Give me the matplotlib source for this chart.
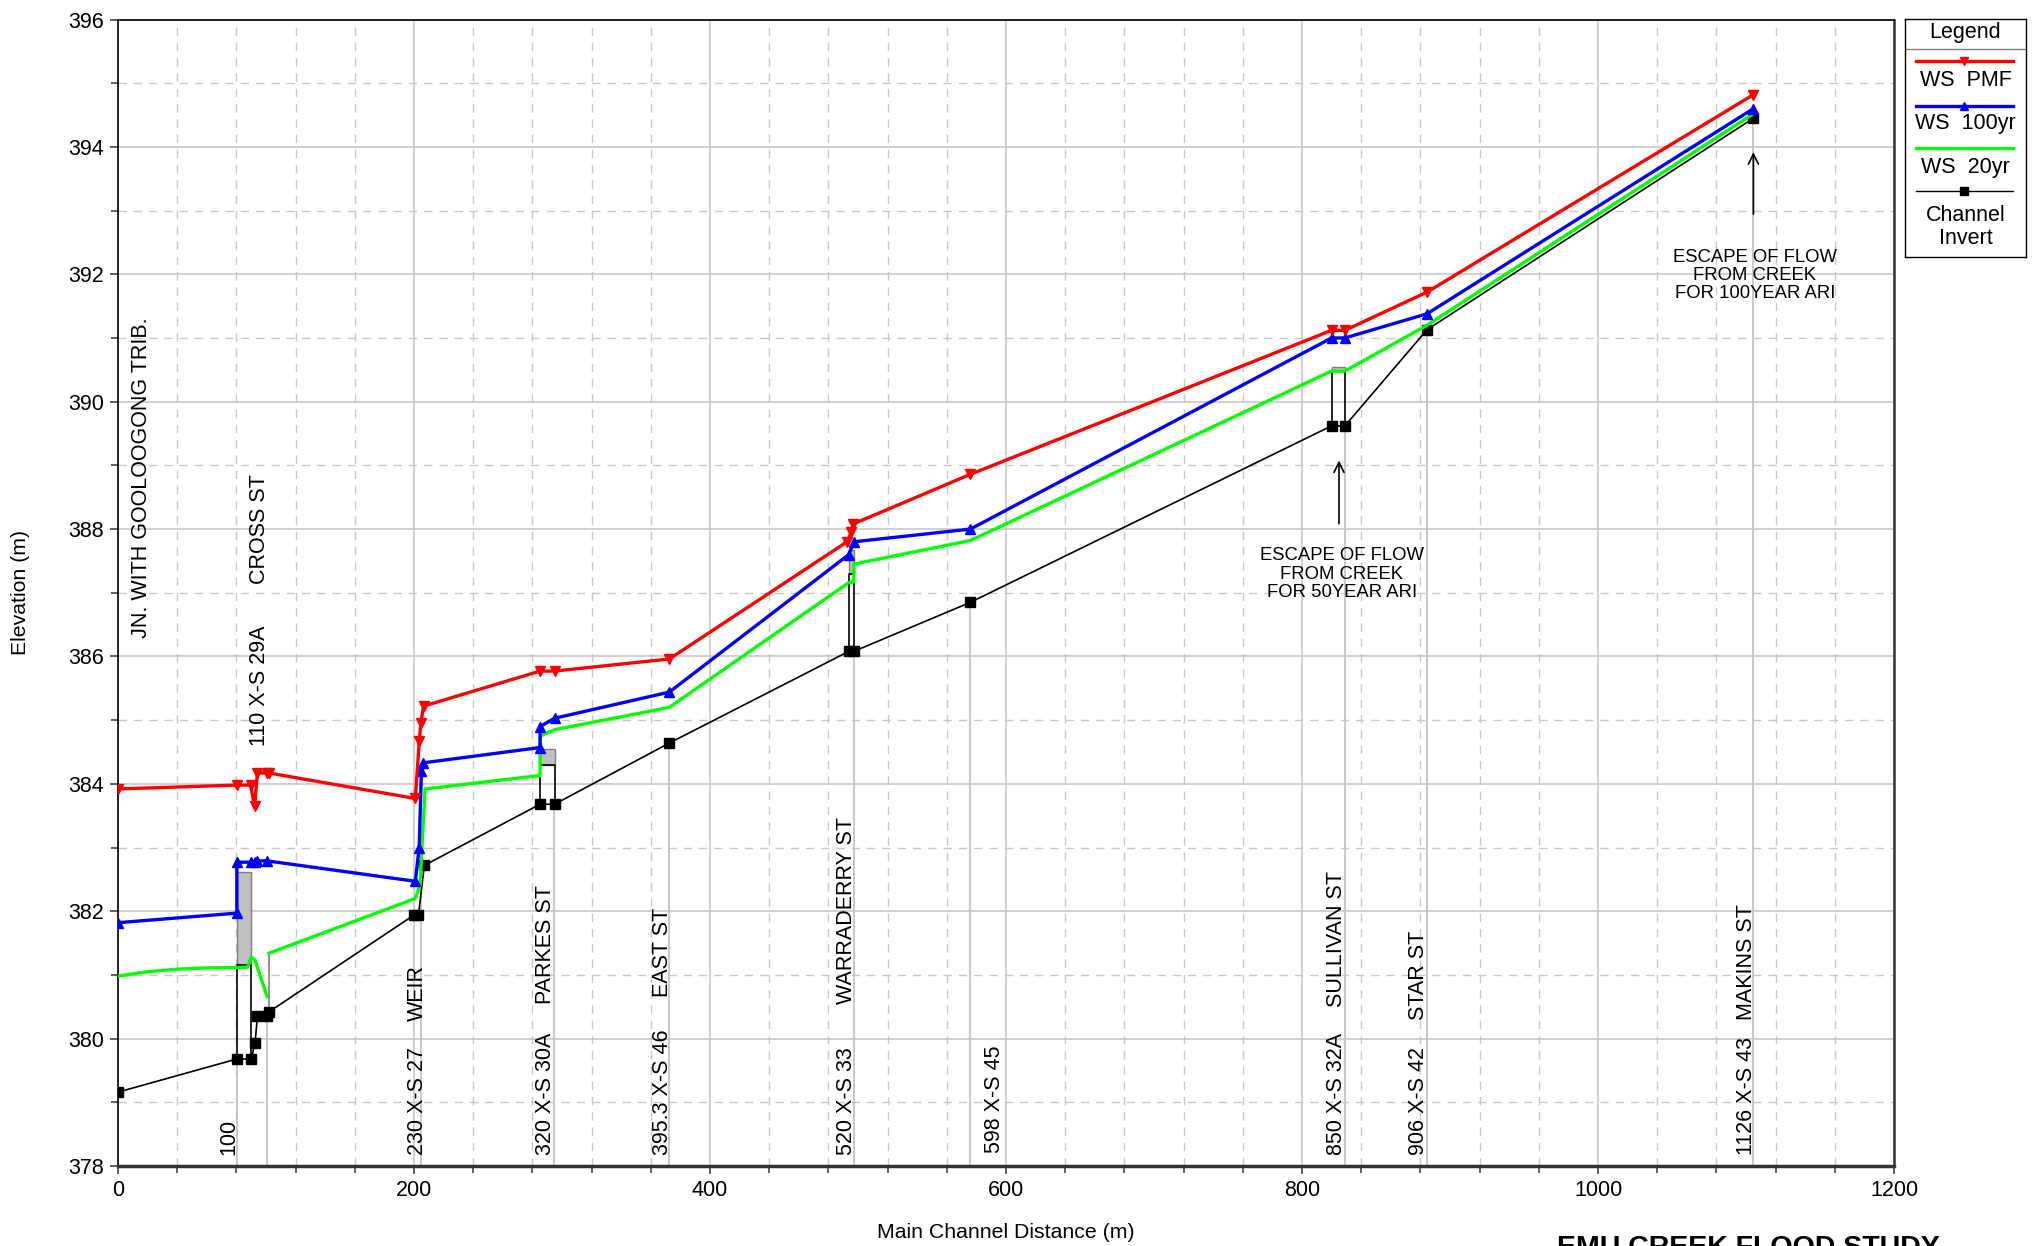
import numpy as np
import matplotlib.pyplot as plt
from matplotlib.ticker import MultipleLocator
from matplotlib.patches import Rectangle

plt.rcParams['font.family'] = ['Liberation Sans', 'DejaVu Sans']

# --- profiles: main channel distance (m) / elevation (m) ---
pmf_x = [0, 80.3, 89.6, 92.3, 94.2, 100.8, 102, 200.9, 203.6, 204.6, 206.5,
         285.2, 295, 372.5, 492.6, 495.4, 496.8, 576, 820, 829, 884.5, 1105]
pmf_z = [383.92, 383.98, 383.98, 383.65, 384.17, 384.17, 384.17, 383.77, 384.68, 384.95, 385.22,
         385.77, 385.77, 385.96, 387.80, 387.95, 388.08, 388.86, 391.12, 391.12, 391.72, 394.82]

q100_x = [0, 80.3, 80.3, 90, 92.6, 94.2, 100.8, 200.9, 203.5, 205, 206.4,
          285.2, 285.2, 295, 372.5, 493.8, 497.2, 576, 820, 829, 884.5, 1105]
q100_z = [381.82, 381.97, 382.77, 382.77, 382.78, 382.79, 382.79, 382.47, 383.0, 384.2, 384.33,
          384.57, 384.9, 385.03, 385.44, 387.6, 387.8, 388.0, 391.0, 391.0, 391.38, 394.6]

q20_x = [0, 20, 40, 60, 87.5, 90, 92.6, 100.8, np.nan, 102, 200.9, 204, 207.5,
         285.2, 285.2, 295, 372.5, 493.8, 497.2, 497.2, 576, 820, 829, 884.5, 1105]
q20_z = [380.98, 381.05, 381.09, 381.11, 381.12, 381.28, 381.23, 380.66, np.nan, 381.34, 382.2, 382.4, 383.92,
         384.13, 384.75, 384.85, 385.2, 387.16, 387.17, 387.45, 387.82, 390.48, 390.48, 391.2, 394.52]

inv_x = [0, 80.3, 90, 92.6, 94.2, 100.8, 102, 200, 203, 207, 285.2, 295,
         372.5, 493.8, 497.2, 576, 820, 829, 884.5, 1105]
inv_z = [379.16, 379.68, 379.68, 379.93, 380.35, 380.35, 380.42, 381.94, 381.94, 382.72, 383.68, 383.68,
         384.64, 386.08, 386.08, 386.85, 389.62, 389.62, 391.13, 394.45]

# bridges / culverts
struct_left = [80.3, 285.2, 493.8, 820]
struct_right = [90, 295, 497.2, 829]
struct_invert = [379.68, 383.68, 386.08, 389.62]
struct_low = [381.15, 384.29, 387.30, 390.48]
struct_high = [382.62, 384.54, 387.67, 390.55]

# weir wall downstream of Cross St
wall_x = [102, 102]
wall_z = [380.42, 381.34]

# cross-section lines
station_x = [80.3, 100.8, 205, 294.5, 372.5, 497.2, 576, 829, 884.5, 1105]

xs_labels = ['100', '110 X-S 29A', '230 X-S 27', '320 X-S 30A', '395.3 X-S 46',
             '520 X-S 33', '598 X-S 45', '850 X-S 32A', '906 X-S 42', '1126 X-S 43']
xs_label_x = [82, 103, 209.5, 296, 375, 499, 599, 830.5, 886, 1107.5]
xs_label_z = [378.17, 384.59, 378.17, 378.17, 378.17, 378.17, 378.2, 378.17, 378.17, 378.17]

street_names = ['JN. WITH GOOLOOGONG TRIB.', 'CROSS ST', 'WEIR', 'PARKES ST', 'EAST ST',
                'WARRADERRY ST', 'SULLIVAN ST', 'STAR ST', 'MAKINS ST']
street_x = [23, 103, 209.5, 296, 375, 499, 830.5, 886, 1107.5]
street_z = [386.29, 387.13, 380.27, 380.54, 380.65, 380.54, 380.49, 380.30, 380.30]

esc_text = ['ESCAPE OF FLOW\nFROM CREEK\nFOR 50YEAR ARI', 'ESCAPE OF FLOW\nFROM CREEK\nFOR 100YEAR ARI']
esc_x = [825, 1105]
esc_text_x = [827, 1106]
esc_text_z = [387.29, 391.98]
esc_tail = [388.04, 392.9]
esc_tip = [389.12, 393.96]

legend_labels = ['WS  PMF', 'WS  100yr', 'WS  20yr', 'Channel\nInvert']

W, H = 2038, 1246
fig = plt.figure(figsize=(W / 100, H / 100), dpi=100)
ax = fig.add_axes([118 / W, 1 - 1166 / H, (1894 - 118) / W, (1166 - 19.5) / H])

ax.set_xlim(0, 1200)
ax.set_ylim(378, 396)
ax.xaxis.set_major_locator(MultipleLocator(200))
ax.xaxis.set_minor_locator(MultipleLocator(40))
ax.yaxis.set_major_locator(MultipleLocator(2))
ax.yaxis.set_minor_locator(MultipleLocator(1))
ax.grid(which='major', color='#c4c4c4', lw=1.1, ls='-', zorder=0)
ax.grid(which='minor', color='#c8c8c8', lw=1.0, ls=(0, (6, 5)), zorder=0)
ax.set_axisbelow(True)

ax.tick_params(which='major', direction='out', length=6, width=1.1, color='#333333', labelsize=15.5, pad=4)
ax.tick_params(which='minor', direction='out', length=5, width=1.1, color='#333333')

for side in ['top', 'right', 'left']:
    ax.spines[side].set_linewidth(1.2)
    ax.spines[side].set_color('black')
ax.spines['bottom'].set_linewidth(2.5)
ax.spines['bottom'].set_color('#333333')
ax.spines['right'].set_linewidth(1.8)
ax.spines['right'].set_color('#333333')

ax.set_xlabel('Main Channel Distance (m)', fontsize=15.3)
ax.set_ylabel('Elevation (m)', fontsize=15.3)
ax.xaxis.set_label_coords(0.5, -0.05)
ax.yaxis.set_label_coords(-0.0495, 0.5)

# cross-section lines up to the channel invert
station_top = np.interp(station_x, inv_x, inv_z)
ax.vlines(station_x, 378, station_top, color='#c4c4c4', lw=1.3, zorder=1)

# structures
for xl, xr, zi, zl, zh in zip(struct_left, struct_right, struct_invert, struct_low, struct_high):
    ax.add_patch(Rectangle((xl, zl), xr - xl, zh - zl, facecolor='#c0c0c0',
                           edgecolor='#808080', lw=1.0, zorder=2))
    ax.plot([xl, xl, xr, xr], [zi, zl, zl, zi], color='black', lw=1.2, zorder=2)
ax.plot(wall_x, wall_z, color='#808080', lw=1.2, zorder=2)

ax.plot(inv_x, inv_z, color='black', lw=1.2, marker='s', ms=7, zorder=4)
ax.plot(q20_x, q20_z, color='#00ff00', lw=2.4, zorder=5)
ax.plot(q100_x, q100_z, color='#0000ff', lw=2.4, marker='^', ms=7.5, zorder=6)
ax.plot(pmf_x, pmf_z, color='#ff0000', lw=2.4, marker='v', ms=7.5, zorder=7)

for s, x, z in zip(xs_labels, xs_label_x, xs_label_z):
    ax.text(x, z, s, rotation=90, ha='right', va='bottom', fontsize=15.5, zorder=8)
for s, x, z in zip(street_names, street_x, street_z):
    ax.text(x, z, s, rotation=90, ha='right', va='bottom', fontsize=15.5, zorder=8)

for s, x, tx, tz, z0, z1 in zip(esc_text, esc_x, esc_text_x, esc_text_z, esc_tail, esc_tip):
    ax.text(tx, tz, s, ha='center', va='center', fontsize=13.3, multialignment='center',
            linespacing=1.1, zorder=8)
    ax.annotate('', xy=(x, z1), xytext=(x, z0),
                arrowprops=dict(arrowstyle='->', color='black', lw=1.2, mutation_scale=18), zorder=8)

# legend box
lax = fig.add_axes([1905 / W, 1 - 257 / H, 121 / W, 238 / H])
lax.set_xlim(0, 1)
lax.set_ylim(1, 0)
lax.set_xticks([])
lax.set_yticks([])
for sp in lax.spines.values():
    sp.set_linewidth(1.0)
lax.text(0.5, 0.055, 'Legend', ha='center', va='center', fontsize=15.5)
lax.axhline(0.126, color='#808080', lw=1.0)
leg_styles = [('#ff0000', 'v', 2.4), ('#0000ff', '^', 2.4), ('#00ff00', '', 2.4), ('black', 's', 1.0)]
leg_line_y = [0.176, 0.366, 0.542, 0.723]
leg_text_y = [0.26, 0.437, 0.626, 0.875]
for (c, m, lw), ly, ty, lab in zip(leg_styles, leg_line_y, leg_text_y, legend_labels):
    lax.plot([0.09, 0.89], [ly, ly], color=c, lw=lw)
    if m:
        lax.plot([0.49], [ly], color=c, marker=m, ms=6, ls='none')
    lax.text(0.5, ty, lab, ha='center', va='center', fontsize=15.5, linespacing=1.15)

fig.text(1748 / W, 1 - 1235 / H, 'EMU CREEK FLOOD STUDY', ha='center', va='top',
         fontsize=20.5, fontweight='bold')

fig.savefig('out.png', dpi=100)
